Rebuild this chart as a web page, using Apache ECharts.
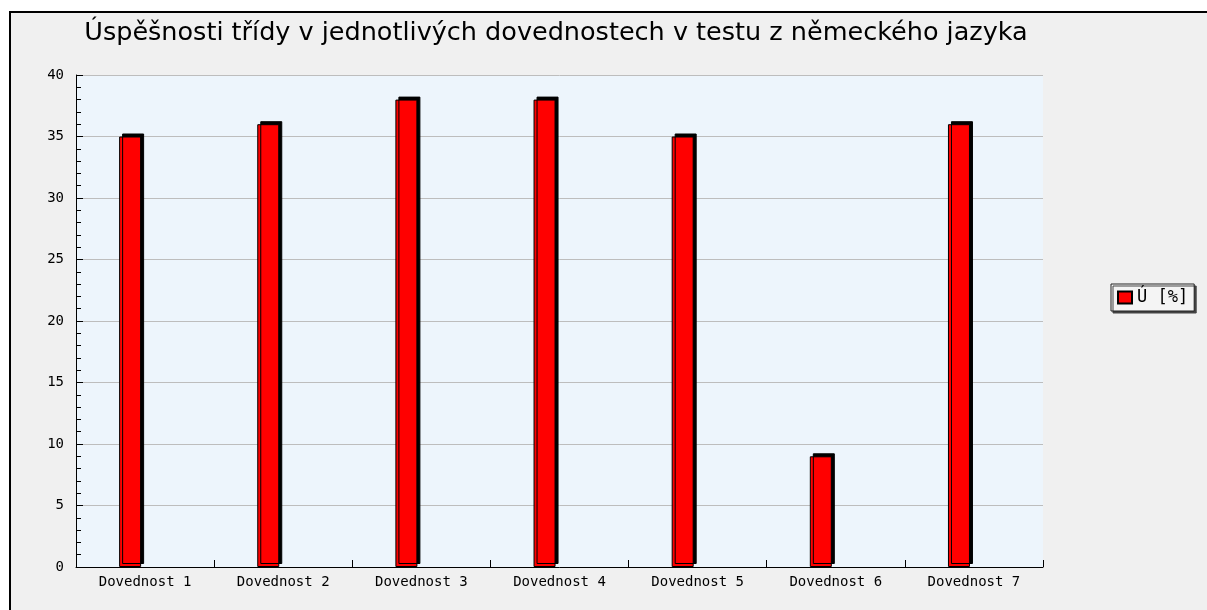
<!DOCTYPE html>
<html><head><meta charset="utf-8">
<script src="https://cdn.jsdelivr.net/npm/echarts@6/dist/echarts.min.js"></script>
<style>html,body{margin:0;padding:0;background:#fff}#c{width:1207px;height:610px}</style>
</head><body><div id="c"></div>
<script>
const titleText = 'Úspěšnosti třídy v jednotlivých dovednostech v testu z německého jazyka';
const categories = ['Dovednost 1','Dovednost 2','Dovednost 3','Dovednost 4','Dovednost 5','Dovednost 6','Dovednost 7'];
const seriesName = 'Ú [%]';
const values = [35, 36, 38, 38, 35, 9, 36];
const yTicks = [0, 5, 10, 15, 20, 25, 30, 35, 40];

const chart = echarts.init(document.getElementById('c'), null, {renderer:'canvas'});
const mono = 'DejaVu Sans Mono';
chart.setOption({
  animation: false,
  backgroundColor: '#fff',
  graphic: [{
    type: 'rect', z: -10, silent: true,
    shape: {x: 10, y: 12, width: 1210, height: 620},
    style: {fill: '#F0F0F0', stroke: '#000', lineWidth: 2}
  }],
  title: {
    text: titleText, top: 15, left: 551, textAlign: 'center',
    textStyle: {fontFamily: 'DejaVu Sans', fontSize: 25.5, fontWeight: 'normal', color: '#000'}
  },
  legend: {
    data: [seriesName], left: 1111, top: 284,
    orient: 'vertical', icon: 'rect', itemWidth: 14, itemHeight: 12, itemGap: 4,
    padding: [5, 6, 5, 6],
    backgroundColor: '#F4F4F4', borderColor: '#222', borderWidth: 1,
    shadowColor: '#444', shadowBlur: 0, shadowOffsetX: 2, shadowOffsetY: 2,
    textStyle: {fontFamily: mono, fontSize: 17, color: '#000'}
  },
  grid: {left: 76, right: 164, top: 75, bottom: 43, show: true, backgroundColor: '#EDF5FC', borderWidth: 0, containLabel: false},
  xAxis: {
    type: 'category', data: categories,
    axisLine: {lineStyle: {color: '#000', width: 1}},
    axisTick: {show: true, inside: true, length: 7, lineStyle: {color: '#000'}},
    axisLabel: {fontFamily: mono, fontSize: 14, color: '#000', margin: 8},
    splitLine: {show: false}
  },
  yAxis: {
    type: 'value', min: 0, max: 40, interval: 5,
    axisLine: {show: true, lineStyle: {color: '#000', width: 1}},
    axisTick: {show: true, inside: true, length: 7, lineStyle: {color: '#000'}},
    minorTick: {show: true, splitNumber: 5, length: 5, lineStyle: {color: '#000'}},
    axisLabel: {fontFamily: mono, fontSize: 14, color: '#000', margin: 12, formatter: v => yTicks.includes(v) ? String(v) : ''},
    splitLine: {show: true, lineStyle: {color: '#BDBDBD', width: 1}}
  },
  series: [{
    name: seriesName, type: 'bar', data: values, barWidth: 22, barGap: '36%',
    itemStyle: {color: '#FF0000', borderColor: '#000', borderWidth: 1,
      shadowColor: '#000', shadowBlur: 0, shadowOffsetX: 3, shadowOffsetY: -3}
  }, {
    name: '_spacer', type: 'bar', data: values.map(() => null), barWidth: 22
  }]
});
</script></body></html>
